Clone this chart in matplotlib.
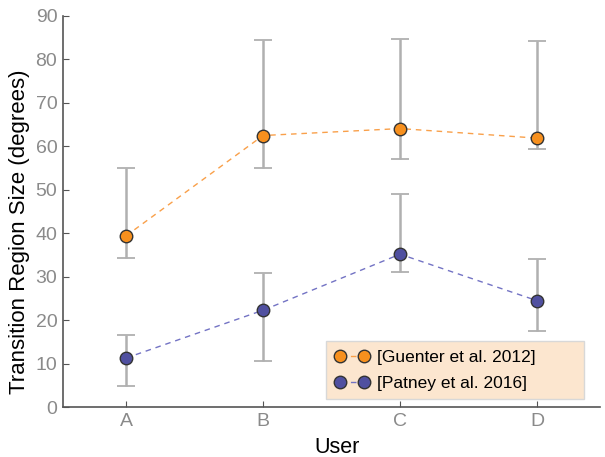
import numpy as np
import matplotlib
matplotlib.use("Agg")
from matplotlib import pyplot as plt

users = ["A", "B", "C", "D"]

guenter_mean = [39.4, 62.5, 64.1, 61.9]
guenter_low = [34.3, 55.1, 57.2, 59.3]
guenter_high = [55.0, 84.5, 84.7, 84.3]

patney_mean = [11.3, 22.3, 35.2, 24.5]
patney_low = [4.8, 10.7, 31.0, 17.5]
patney_high = [16.6, 30.8, 49.0, 34.0]

plt.rcParams['font.family'] = ['Liberation Sans', 'DejaVu Sans']

fig = plt.figure(figsize=(6.05, 4.57), dpi=100)
ax = fig.add_axes([0.104, 0.109, 0.888, 0.856])

x = np.arange(1, len(users) + 1)
grey_bar = '#b0b0b0'

def draw(mean, low, high, fill, line_col, label):
    mean = np.array(mean)
    err = [mean - np.array(low), np.array(high) - mean]
    ax.errorbar(x, mean, yerr=err, fmt='none', ecolor=grey_bar, elinewidth=1.8,
                capsize=6.5, capthick=1.3, zorder=1)
    ax.plot(x, mean, linestyle=(0, (4, 3.5)), color=line_col, linewidth=1,
            marker='o', markersize=9, markerfacecolor=fill,
            markeredgecolor='#333333', markeredgewidth=1, zorder=3, label=label)

draw(guenter_mean, guenter_low, guenter_high, '#f7901e', '#f9a04a', '[Guenter et al. 2012]')
draw(patney_mean, patney_low, patney_high, '#5050a0', '#7373c4', '[Patney et al. 2016]')

ax.set_xlim(0.54, 4.46)
ax.set_ylim(0, 90)
ax.set_xticks(x)
ax.set_xticklabels(users)
ax.set_yticks(np.arange(0, 91, 10))

for side in ['top', 'right']:
    ax.spines[side].set_visible(False)
for side in ['left', 'bottom']:
    ax.spines[side].set_color('#555555')
    ax.spines[side].set_linewidth(1.2)
ax.tick_params(direction='in', length=4, color='#555555', labelcolor='#8a8a8a',
               labelsize=14, pad=4)

ax.set_xlabel('User', fontsize=15.5)
ax.set_ylabel('Transition Region Size (degrees)', fontsize=16)
ax.xaxis.set_label_coords(0.51, -0.075)
ax.yaxis.set_label_coords(-0.062, 0.448)

leg = ax.legend(loc='lower left', bbox_to_anchor=(0.49, 0.02, 0.479, 0.15),
                mode='expand', numpoints=2, handlelength=2.0, fontsize=12.5,
                frameon=True, fancybox=False, borderpad=0.5, labelspacing=0.6,
                handletextpad=0.4, borderaxespad=0)
leg.get_frame().set_facecolor('#fce6cf')
leg.get_frame().set_edgecolor('#d8d8d8')
leg.get_frame().set_alpha(1)

plt.savefig('out.png', dpi=100)
